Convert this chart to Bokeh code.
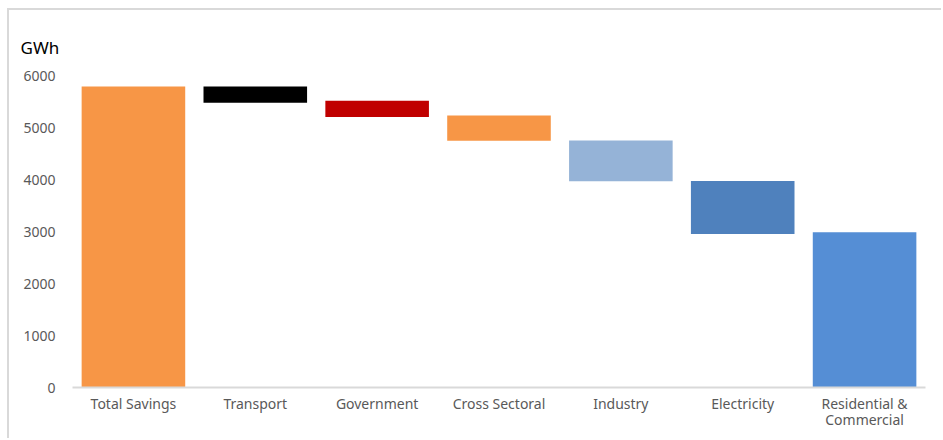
from bokeh.plotting import figure
from bokeh.models import Range1d, FixedTicker, Title
from bokeh.embed import file_html
from bokeh.resources import INLINE

categories = ["Total Savings", "Transport", "Government", "Cross Sectoral",
              "Industry", "Electricity", "Residential &\nCommercial"]
tops = [5790, 5790, 5515, 5230, 4750, 3970, 2985]
bottoms = [0, 5475, 5200, 4745, 3965, 2950, 0]
colors = ["#F79646", "#000000", "#C00000", "#F79646", "#95B3D7", "#4F81BD", "#558ED5"]
y_ticks = [0, 1000, 2000, 3000, 4000, 5000, 6000]

p = figure(x_range=categories, y_range=Range1d(0, 6000),
           width=934, height=430, output_backend="svg", toolbar_location=None,
           min_border_left=63, min_border_right=18, min_border_top=65, min_border_bottom=53)
p.margin = (8, 0, 0, 7)
p.styles = {"border-top": "2px solid #d9d9d9", "border-left": "2px solid #d9d9d9"}

p.vbar(x=categories, bottom=bottoms, top=tops, width=0.85, fill_color=colors, line_color=None)

p.outline_line_color = None
p.xgrid.grid_line_color = None
p.ygrid.grid_line_color = None

p.yaxis.ticker = FixedTicker(ticks=y_ticks)
p.yaxis.axis_line_color = None
p.yaxis.major_tick_line_color = None
p.yaxis.minor_tick_line_color = None
p.yaxis.major_label_standoff = 11
p.yaxis.major_label_text_font = "Noto Sans"
p.yaxis.major_label_text_font_size = "14px"
p.yaxis.major_label_text_color = "#595959"

p.xaxis.axis_line_color = "#d9d9d9"
p.xaxis.axis_line_width = 2
p.xaxis.major_tick_line_color = None
p.xaxis.minor_tick_line_color = None
p.xaxis.major_label_standoff = 0
p.xaxis.major_label_text_font = "Noto Sans"
p.xaxis.major_label_text_font_size = "14px"
p.xaxis.major_label_text_line_height = 0.85
p.xaxis.major_label_text_color = "#595959"

t = Title(text="GWh", align="left", offset=-52, text_font="Noto Sans",
          text_font_size="17px", text_font_style="normal", text_color="#000000", standoff=33)
p.add_layout(t, "above")

open("out.html", "w").write(file_html(p, INLINE))
